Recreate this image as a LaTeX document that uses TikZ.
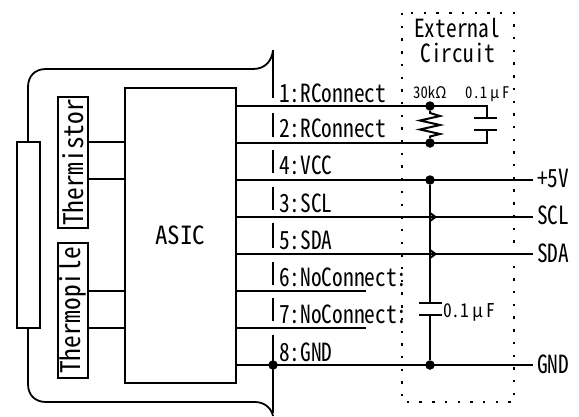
\documentclass[tikz,border=0pt]{standalone}
\usepackage{fontspec}
\setmainfont{Noto Sans CJK JP}[RawFeature=+hwid]
\newfontfamily\labfont{Noto Sans CJK JP}[RawFeature=+hwid,FakeStretch=0.855]
\newfontfamily\sidefont{Noto Sans CJK JP}[RawFeature=+hwid,FakeStretch=0.94]
\newfontfamily\smallfont{Noto Sans CJK JP}[RawFeature=+hwid,FakeStretch=0.92]
\newcommand{\mufw}{\makebox[0.92em][c]{μ}}
\tikzset{
  wire/.style={line width=2pt,black},
  boxed/.style={draw=black,line width=1.8pt,fill=white,inner sep=0pt,minimum width=0pt},
  lab/.style={anchor=base west,inner sep=0pt,font=\labfont\fontsize{25}{25}\selectfont},
  small/.style={inner sep=0pt,font=\smallfont\fontsize{16}{16}\selectfont},
  dotj/.style={circle,fill=black,inner sep=0pt,minimum size=9.5pt},
  sideways/.style={rotate=90,inner sep=0pt,font=\sidefont\fontsize{27}{27}\selectfont},
  dotbox/.style={line width=2.2pt,dash pattern=on 2.4pt off 10.3pt}
}
\begin{document}
\begin{tikzpicture}[x=1pt,y=-1pt]
\useasboundingbox (0,0) rectangle (579,416);
% housing
\coordinate (hTL) at (273,50);
\coordinate (hBL) at (273,416);
\coordinate (hL1) at (28,142);
\coordinate (hL2) at (28,328);
\draw[wire,line width=1.8pt] (hTL) .. controls (272,60) and (266,69) .. (253,69) -- (46,69) .. controls (35,69) and (28,76) .. (28,87) -- (hL1);
\draw[wire,line width=1.8pt] (hBL) .. controls (272,410) and (266,402) .. (255,402) -- (46,402) .. controls (35,402) and (28,395) .. (28,384) -- (hL2);
\node[boxed,minimum width=23pt,minimum height=186pt] (win) at (28.5,235) {};
% boxes
\node[boxed,minimum width=111pt,minimum height=295pt] (asic) at (180.5,235.5) {};
\node[inner sep=0pt,font=\fontsize{25}{25}\selectfont] (asiclabel) at (180,235) {ASIC};
\node[boxed,minimum width=30pt,minimum height=131pt] (tmr) at (73,162.5) {};
\node[sideways] (tmrl) at (73,162.5) {Thermistor};
\node[boxed,minimum width=30pt,minimum height=135pt] (tmp) at (73,310.5) {};
\node[sideways] (tmpl) at (73,310.5) {Thermopile};
% sensor wires
\foreach \y in {142,179,291,328}{
  \draw[wire] (88,\y) -- (125,\y);
}
% pin ticks
\foreach \n/\a/\b in {t1/50/98,t2/113/137,t4/150/173,t3/187/210,t5/223/248,t6/262/285,t7/298/321,t8/335/413}{
  \coordinate (\n a) at (273,\a); \coordinate (\n b) at (273,\b);
  \draw[wire] (\n a) -- (\n b);
}
% external dotted box
\draw[dotbox] (402,13) rectangle (514,402);
% pins
\coordinate (c1) at (487,106); \coordinate (c2) at (487,143);
\coordinate (e4) at (533,180); \coordinate (e3) at (533,217);
\coordinate (e5) at (533,254); \coordinate (e8) at (533,365);
\coordinate (n6) at (366,291); \coordinate (n7) at (366,328);
\draw[wire] (236,106) -- (c1) -- (487,118);
\draw[wire] (474,118) -- (497,118);
\draw[wire] (474,130) -- (497,130);
\draw[wire] (487,130) -- (c2) -- (236,143);
\draw[wire] (236,180) -- (e4);
\draw[wire] (236,217) -- (e3);
\draw[wire] (236,254) -- (e5);
\draw[wire] (236,291) -- (n6);
\draw[wire] (236,328) -- (n7);
\draw[wire] (236,365) -- (e8);
% resistor
\node[dotj] (j1) at (430,106) {};
\node[dotj] (j2) at (430,143) {};
\draw[wire,line join=miter] (j1) -- (430,113) -- (440,116) -- (420,120.5) -- (440,125) -- (420,129.5) -- (440,134) -- (430,136.5) -- (j2);
% vertical bus with hops
\node[dotj] (j4) at (430,180) {};
\node[dotj] (j8) at (430,365) {};
\node[dotj] (j0) at (273,365) {};
\draw[wire] (j4) -- (430,303);
\draw[wire] (430,213) -- (435.5,217) -- (430,221);
\draw[wire] (430,250) -- (435.5,254) -- (430,258);
\draw[wire] (419,303) -- (442,303);
\draw[wire] (419,315) -- (442,315);
\draw[wire] (430,315) -- (j8);
% labels
\node[lab] (l1) at (279,102) {1:RConnect};
\node[lab] (l2) at (279,137) {2:RConnect};
\node[lab] (l4) at (279,174) {4:VCC};
\node[lab] (l3) at (279,212) {3:SCL};
\node[lab] (l5) at (279,249) {5:SDA};
\node[lab] (l6) at (279,286) {6:NoConnect:};
\node[lab] (l7) at (279,323) {7:NoConnect:};
\node[lab] (l8) at (279,361) {8:GND};
\node[lab,anchor=base] (ext1) at (457,37) {External};
\node[lab,anchor=base] (ext2) at (458,62) {Circuit};
\node[small,anchor=base west] (rv) at (413,98) {30kΩ};
\node[small,anchor=base west] (cv) at (465,98) {0.1\mufw F};
\node[small,anchor=base west,font=\smallfont\fontsize{19}{19}\selectfont] (cv2) at (443,317) {0.1\mufw F};
\node[lab] (o1) at (537,187) {+5V};
\node[lab] (o2) at (537,224) {SCL};
\node[lab] (o3) at (537,262) {SDA};
\node[lab] (o4) at (537,373) {GND};
\end{tikzpicture}
\end{document}
